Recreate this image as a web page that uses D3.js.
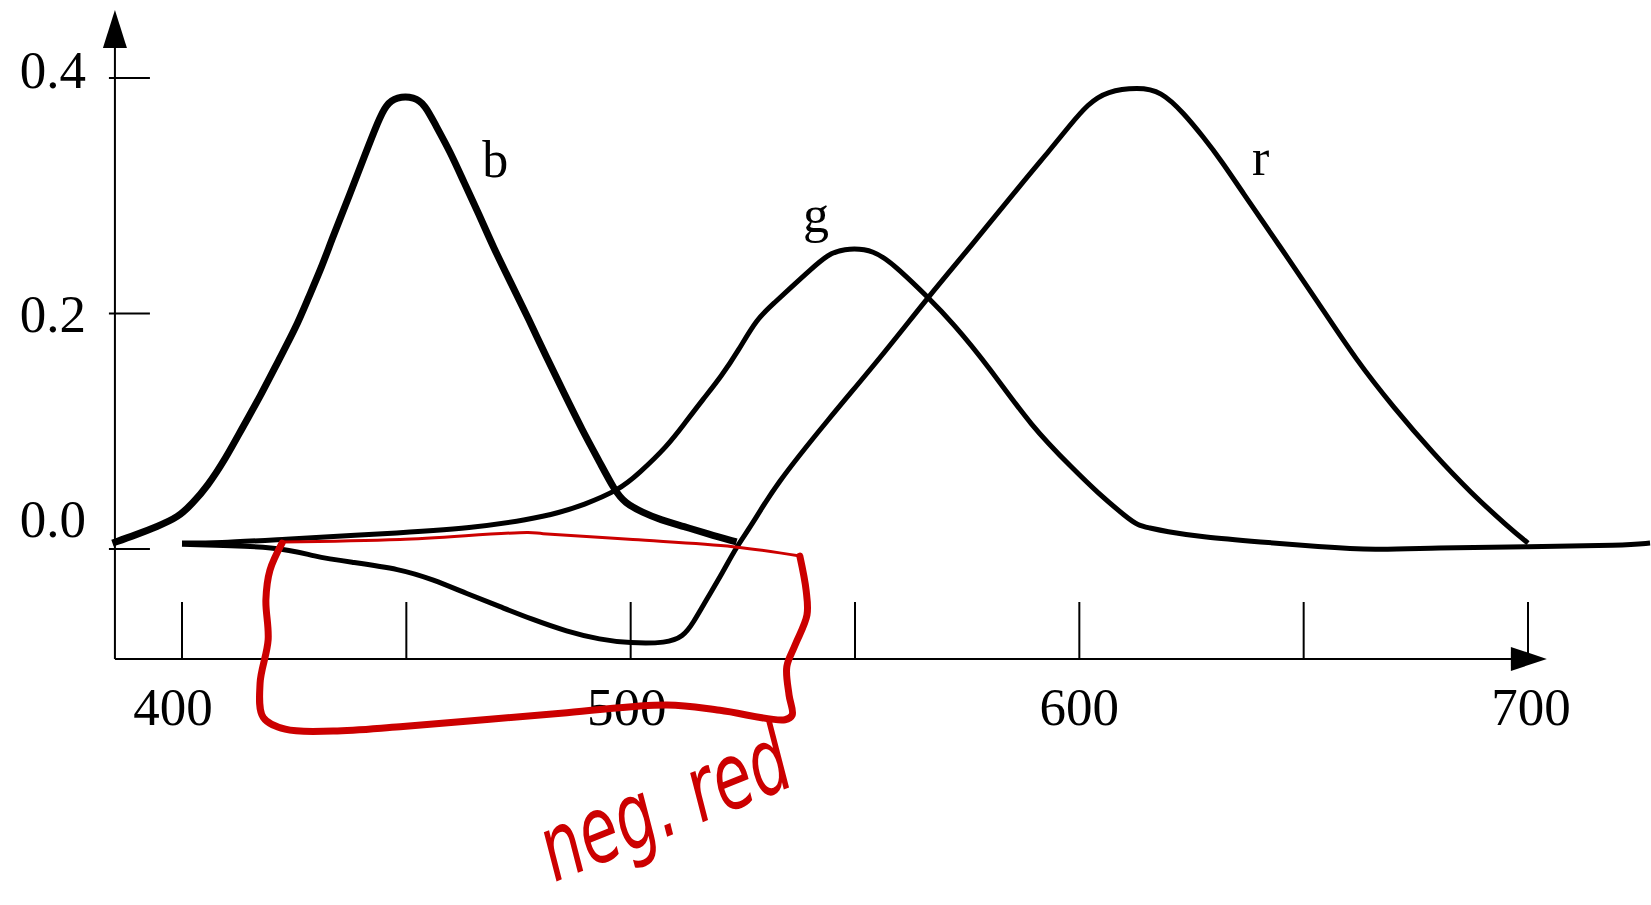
<!DOCTYPE html>
<html>
<head>
<meta charset="utf-8">
<script src="https://cdn.jsdelivr.net/npm/d3@7"></script>
<style>
  html, body { margin: 0; padding: 0; background: #fff; }
  svg { display: block; }
</style>
</head>
<body>
<svg id="chart" width="1651" height="905"></svg>
<script>
// ---- data (wavelength nm, value) ----
const xTickValues = [400, 450, 500, 550, 600, 650, 700];
const xTickLabels = ["400", "", "500", "", "600", "", "700"];
const yTickValues = [0.0, 0.2, 0.4];
const yTickLabels = ["0.0", "0.2", "0.4"];

const bCurve = [
  [384.5, 0.005], [389.7, 0.012], [394.4, 0.019], [399.2, 0.027], [402.4, 0.039],
  [405.6, 0.053], [409.6, 0.076], [413.6, 0.104], [417.5, 0.130], [421.5, 0.160],
  [425.5, 0.189], [427.9, 0.211], [431.1, 0.239], [433.5, 0.264], [437.4, 0.301],
  [440.6, 0.333], [443.8, 0.364], [445.4, 0.377], [447.8, 0.384], [451.8, 0.384],
  [454.2, 0.377], [456.5, 0.360], [459.7, 0.338], [462.9, 0.311], [466.1, 0.285],
  [469.3, 0.257], [473.3, 0.226], [477.3, 0.195], [481.2, 0.163], [485.2, 0.132],
  [489.2, 0.101], [493.2, 0.073], [496.4, 0.050], [498.7, 0.039], [502.7, 0.031],
  [506.5, 0.025], [512.0, 0.019], [517.0, 0.013], [523.6, 0.006]
];
const gCurve = [
  [400.0, 0.005], [408.0, 0.005], [421.5, 0.008], [445.4, 0.013], [465.3, 0.018],
  [477.3, 0.025], [484.2, 0.031], [489.2, 0.037], [497.4, 0.050], [501.8, 0.064],
  [508.1, 0.087], [512.1, 0.107], [516.1, 0.127], [520.1, 0.146], [524.1, 0.169],
  [528.0, 0.195], [532.0, 0.209], [536.0, 0.223], [540.0, 0.237], [544.0, 0.250],
  [547.1, 0.255], [554.3, 0.255], [559.9, 0.237], [566.2, 0.214], [571.8, 0.192],
  [579.8, 0.155], [589.3, 0.104], [598.9, 0.067], [604.0, 0.048], [610.5, 0.027],
  [613.1, 0.020], [615.6, 0.018], [619.0, 0.015], [627.6, 0.010], [640.4, 0.006],
  [653.2, 0.002], [666.0, -0.001], [678.8, 0.001], [700.1, 0.002], [721.4, 0.003],
  [727.2, 0.005]
];
const rCurve = [
  [400.0, 0.004], [422.3, 0.002], [429.4, -0.0065], [437.4, -0.011], [448.6, -0.017],
  [456.0, -0.026], [463.5, -0.038], [470.9, -0.049], [478.2, -0.060], [485.7, -0.070],
  [493.2, -0.077], [499.8, -0.080], [508.0, -0.080], [511.7, -0.0745], [513.9, -0.063],
  [516.9, -0.043], [520.5, -0.020], [523.6, 0.002], [527.3, 0.022], [532.0, 0.053],
  [544.0, 0.110], [555.8, 0.163], [566.3, 0.214], [575.8, 0.257], [587.7, 0.313],
  [593.5, 0.339], [597.7, 0.359], [601.9, 0.378], [606.2, 0.389], [613.1, 0.392],
  [618.2, 0.389], [623.3, 0.370], [627.6, 0.350], [631.8, 0.329], [636.0, 0.305],
  [644.7, 0.257], [653.2, 0.2095], [661.7, 0.1605], [670.1, 0.120], [678.8, 0.0815],
  [687.3, 0.0475], [695.8, 0.018], [700.0, 0.005]
];
const curveLabels = ["b", "g", "r"];
const curveLabelAnchors = [[466.9, 0.316], [538.4, 0.269], [638.5, 0.318]];

// hand-drawn annotation (data coordinates)
const boxTopEdge = [
  [422.3, 0.006], [448.6, 0.008], [477.1, 0.014], [480.5, 0.013], [500.5, 0.008],
  [522.8, 0.002], [537.7, -0.006]
];
const boxRestEdge = [
  [537.7, -0.006], [539.1, -0.035], [539.3, -0.056], [536.6, -0.082], [534.8, -0.100],
  [535.3, -0.124], [536.0, -0.141], [534.4, -0.145], [519.9, -0.137], [508.1, -0.1325],
  [485.8, -0.139], [448.6, -0.151], [433.7, -0.1546], [423.0, -0.153], [418.1, -0.143],
  [417.4, -0.114], [419.2, -0.077], [418.7, -0.043], [419.6, -0.018], [422.3, 0.005]
];
const annotationText = "neg. red";
const annotationAnchor = [483.0, -0.283];

// ---- scales ----
const svg = d3.select("#chart");
const x = d3.scaleLinear().domain([400, 700]).range([182, 1528]);
const y = d3.scaleLinear().domain([0, 0.4]).range([549, 78]);

const axisLambdaMin = 385.05, axisLambdaMax = 704.2;
const axisValueMin = -0.0934, axisValueMax = 0.4577;

const serif = "'Liberation Serif', 'Times New Roman', serif";

// ---- axes ----
const axes = svg.append("g").attr("stroke", "#000").attr("stroke-width", 2).attr("fill", "none");
const x0 = x(axisLambdaMin), yBottom = y(axisValueMin);
// y axis
axes.append("line").attr("x1", x0).attr("x2", x0).attr("y1", y(axisValueMax) + 10).attr("y2", yBottom);
svg.append("path")
  .attr("d", `M${x0},${y(axisValueMax)} L${x0 - 12},${y(axisValueMax) + 38} L${x0 + 12},${y(axisValueMax) + 38} Z`)
  .attr("fill", "#000");
// x axis
const xEnd = x(axisLambdaMax);
axes.append("line").attr("x1", x0).attr("x2", xEnd - 10).attr("y1", yBottom).attr("y2", yBottom);
svg.append("path")
  .attr("d", `M${xEnd},${yBottom} L${xEnd - 36},${yBottom - 12} L${xEnd - 36},${yBottom + 12} Z`)
  .attr("fill", "#000");

// x ticks
axes.selectAll(".xt").data(xTickValues).join("line")
  .attr("x1", d => x(d)).attr("x2", d => x(d))
  .attr("y1", yBottom - 57).attr("y2", yBottom);
const xLabelNudge = [-9, 0, -4, 0, 0, 0, 3];
svg.selectAll(".xl").data(xTickValues).join("text")
  .attr("x", (d, i) => x(d) + xLabelNudge[i]).attr("y", yBottom + 66)
  .attr("text-anchor", "middle")
  .attr("font-family", serif).attr("font-size", 53).attr("fill", "#000")
  .text((d, i) => xTickLabels[i]);

// y ticks
axes.selectAll(".yt").data(yTickValues).join("line")
  .attr("x1", x0 - 6).attr("x2", x0 + 35)
  .attr("y1", d => y(d)).attr("y2", d => y(d));
const yLabelNudge = [-12, 18, 10];
svg.selectAll(".yl").data(yTickValues).join("text")
  .attr("x", 86).attr("y", (d, i) => y(d) + yLabelNudge[i])
  .attr("text-anchor", "end")
  .attr("font-family", serif).attr("font-size", 53).attr("fill", "#000")
  .text((d, i) => yTickLabels[i]);

// ---- curves ----
const line = d3.line().x(d => x(d[0])).y(d => y(d[1])).curve(d3.curveBasis);
const curves = [
  { data: rCurve, w: 5 },
  { data: gCurve, w: 5 },
  { data: bCurve, w: 7 }
];
svg.append("g").selectAll("path").data(curves).join("path")
  .attr("d", d => line(d.data))
  .attr("fill", "none").attr("stroke", "#000")
  .attr("stroke-width", d => d.w)
  .attr("stroke-linejoin", "round").attr("stroke-linecap", "butt");

// curve labels
svg.selectAll(".cl").data(curveLabels).join("text")
  .attr("x", (d, i) => x(curveLabelAnchors[i][0]))
  .attr("y", (d, i) => y(curveLabelAnchors[i][1]))
  .attr("font-family", serif).attr("font-size", 52).attr("fill", "#000")
  .text(d => d);

// ---- hand annotation ----
const red = "#cc0000";
const hand = d3.line().x(d => x(d[0])).y(d => y(d[1])).curve(d3.curveCatmullRom);
svg.append("path").attr("d", hand(boxTopEdge))
  .attr("fill", "none").attr("stroke", red).attr("stroke-width", 3)
  .attr("stroke-linecap", "round").attr("stroke-linejoin", "round");
svg.append("path").attr("d", hand(boxRestEdge))
  .attr("fill", "none").attr("stroke", red).attr("stroke-width", 7)
  .attr("stroke-linecap", "round").attr("stroke-linejoin", "round");

const ax = x(annotationAnchor[0]), ay = y(annotationAnchor[1]);
svg.append("text")
  .attr("x", ax).attr("y", ay)
  .attr("transform", `rotate(-22, ${ax}, ${ay})`)
  .attr("font-family", "'DejaVu Sans', sans-serif")
  .attr("font-style", "italic")
  .attr("font-size", 92)
  .attr("textLength", 262).attr("lengthAdjust", "spacingAndGlyphs")
  .attr("fill", red)
  .text(annotationText);
</script>
</body>
</html>
